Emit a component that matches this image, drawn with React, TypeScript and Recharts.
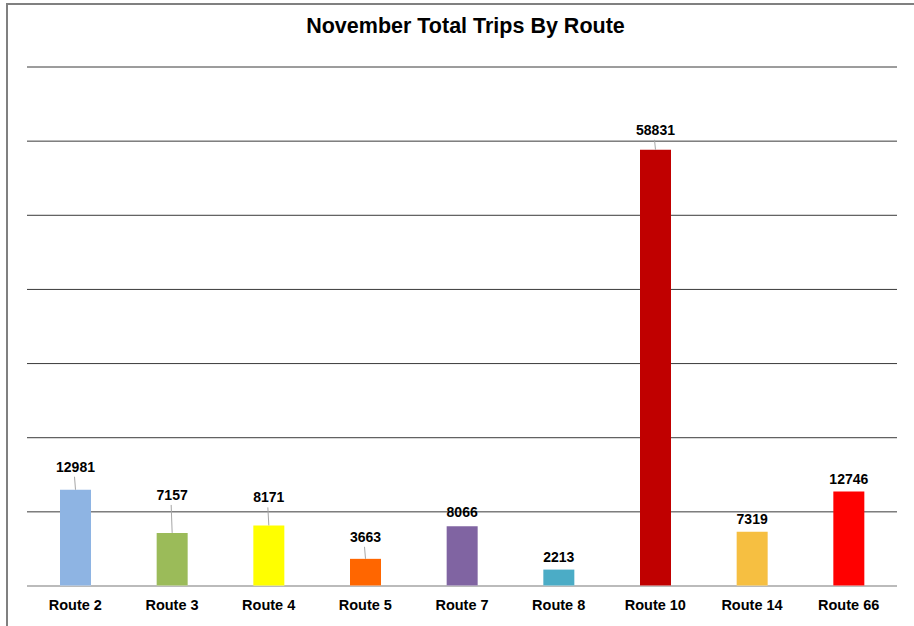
import React from "react";
import { Bar, BarChart, CartesianGrid, Cell, LabelList, XAxis, YAxis } from "recharts";

const routes = ["Route 2", "Route 3", "Route 4", "Route 5", "Route 7", "Route 8", "Route 10", "Route 14", "Route 66"];
const trips = [12981, 7157, 8171, 3663, 8066, 2213, 58831, 7319, 12746];
const colors = ["#8eb4e3", "#9bbb59", "#ffff00", "#ff6600", "#8064a2", "#4bacc6", "#c00000", "#f6bf41", "#ff0000"];
const yTicks = [10000, 20000, 30000, 40000, 50000, 60000, 70000];

// how far each data label sits above its bar (px), leader line drawn when far enough
const labelLift = [23, 38, 28, 22, 14, 13, 20, 13, 13];

const data = routes.map((name, i) => ({ name, trips: trips[i] }));

function TripLabel(props: any) {
  const { x, y, width, value, index } = props;
  const cx = x + width / 2;
  const lift = labelLift[index] ?? 13;
  const ty = y - lift;
  return (
    <g>
      {lift >= 20 && <line x1={cx - 1} y1={ty + 10} x2={cx} y2={y} stroke="#a6a6a6" strokeWidth={1} />}
      <text x={cx} y={ty} dy="0.36em" textAnchor="middle" fontSize={14} fontWeight="bold" fill="#000">
        {value}
      </text>
    </g>
  );
}

export default function App() {
  return (
    <div style={{ position: "absolute", left: 0, top: 0, width: 914, height: 626, overflow: "hidden", background: "#fff", fontFamily: "'Liberation Sans', Arial, sans-serif" }}>
      <div style={{ position: "absolute", left: 6, top: 3, width: 1000, height: 700, border: "2px solid #808080", boxSizing: "border-box" }} />
      <div style={{ position: "absolute", left: 0, width: 931, top: 14, textAlign: "center", fontSize: 21.5, fontWeight: "bold", color: "#000" }}>
        November Total Trips By Route
      </div>
      <div style={{ position: "absolute", left: 0, top: 0 }}>
        <BarChart width={914} height={626} data={data} margin={{ top: 67, right: 17, bottom: 10, left: 27 }}>
          <CartesianGrid vertical={false} stroke="#3a3a3a" strokeWidth={1} />
          <XAxis
            dataKey="name"
            height={30}
            interval={0}
            tickLine={false}
            axisLine={{ stroke: "#d9d9d9" }}
            tickMargin={8}
            tick={{ fontSize: 14.5, fontWeight: "bold", fill: "#000", fontFamily: "'Liberation Sans', Arial, sans-serif" }}
          />
          <YAxis hide domain={[0, 70000]} ticks={yTicks} />
          <Bar dataKey="trips" barSize={31} isAnimationActive={false}>
            {data.map((d, i) => (
              <Cell key={d.name} fill={colors[i]} />
            ))}
            <LabelList dataKey="trips" content={TripLabel} />
          </Bar>
        </BarChart>
      </div>
    </div>
  );
}
